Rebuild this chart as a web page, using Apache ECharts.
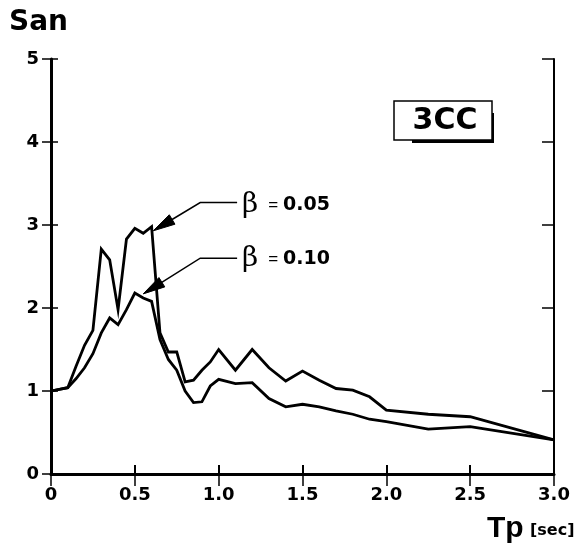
<!DOCTYPE html>
<html>
<head>
<meta charset="utf-8">
<script src="https://cdn.jsdelivr.net/npm/echarts@6/dist/echarts.min.js"></script>
<style>
html,body{margin:0;padding:0;background:#fff;}
#chart{width:586px;height:551px;}
</style>
</head>
<body>
<div id="chart"></div>
<script>
// Period Tp [sec] and spectral amplification San
var tp005 = [0, 0.1, 0.15, 0.2, 0.25, 0.3, 0.35, 0.4, 0.45, 0.5, 0.55, 0.6, 0.65, 0.7, 0.75, 0.8, 0.85, 0.9, 0.95, 1.0, 1.1, 1.2, 1.3, 1.4, 1.5, 1.6, 1.7, 1.8, 1.9, 2.0, 2.25, 2.5, 3.0];
var san005 = [1.0, 1.04, 1.30, 1.55, 1.73, 2.71, 2.58, 1.98, 2.83, 2.96, 2.90, 2.98, 1.70, 1.47, 1.47, 1.11, 1.13, 1.25, 1.35, 1.50, 1.25, 1.50, 1.28, 1.12, 1.24, 1.13, 1.03, 1.01, 0.93, 0.77, 0.72, 0.69, 0.41];
var tp010 = [0, 0.1, 0.15, 0.2, 0.25, 0.3, 0.35, 0.4, 0.45, 0.5, 0.55, 0.6, 0.65, 0.7, 0.75, 0.8, 0.85, 0.9, 0.95, 1.0, 1.1, 1.2, 1.3, 1.4, 1.5, 1.6, 1.7, 1.8, 1.9, 2.0, 2.25, 2.5, 3.0];
var san010 = [1.0, 1.04, 1.15, 1.28, 1.45, 1.70, 1.88, 1.80, 1.98, 2.18, 2.12, 2.08, 1.62, 1.38, 1.25, 1.00, 0.86, 0.87, 1.06, 1.14, 1.09, 1.10, 0.91, 0.81, 0.84, 0.81, 0.76, 0.72, 0.66, 0.63, 0.54, 0.57, 0.41];
var xTicks = [0, 0.5, 1.0, 1.5, 2.0, 2.5, 3.0];
var yTicks = [0, 1, 2, 3, 4, 5];
// annotation leader lines (data coordinates): start, corner, arrow tip
var arrow005 = [1.11, 3.27, 0.89, 3.27, 0.61, 2.93];
var arrow010 = [1.11, 2.60, 0.89, 2.60, 0.55, 2.17];
var label005 = '0.05';
var label010 = '0.10';
var boxLabel = '3CC';

function pairs(xs, ys) { return xs.map(function (x, i) { return [x, ys[i]]; }); }

var chart = echarts.init(document.getElementById('chart'), null, {renderer: 'canvas'});
var FONT = 'Liberation Sans, Arial, sans-serif';
var WIDE = 'DejaVu Sans, sans-serif';

function renderArrow(params, api) {
  var p0 = api.coord([api.value(0), api.value(1)]);
  var p1 = api.coord([api.value(2), api.value(3)]);
  var p2 = api.coord([api.value(4), api.value(5)]);
  var dx = p2[0] - p1[0], dy = p2[1] - p1[1];
  var len = Math.sqrt(dx * dx + dy * dy);
  var ux = dx / len, uy = dy / len;
  var hl = 22, hw = 5.5;
  var bx = p2[0] - ux * hl, by = p2[1] - uy * hl;
  var nx = -uy, ny = ux;
  return {
    type: 'group',
    children: [{
      type: 'polyline',
      shape: {points: [p0, p1, [bx + ux * 2, by + uy * 2]]},
      style: {stroke: '#000', lineWidth: 1.5, fill: null}
    }, {
      type: 'polygon',
      shape: {points: [[p2[0], p2[1]], [bx + nx * hw, by + ny * hw], [bx - nx * hw, by - ny * hw]]},
      style: {fill: '#000', stroke: '#000', lineWidth: 1}
    }]
  };
}

var option = {
  animation: false,
  backgroundColor: '#fff',
  grid: {left: 51, right: 32, top: 59, bottom: 77, containLabel: false},
  xAxis: [{
    type: 'value', min: 0, max: 3, interval: 0.5, position: 'bottom',
    axisLine: {show: true, lineStyle: {color: '#000', width: 3}},
    axisTick: {show: true, inside: true, length: 9, lineStyle: {color: '#000', width: 2}},
    splitLine: {show: false},
    axisLabel: {color: '#000', fontFamily: WIDE, fontWeight: 'bold', fontSize: 18, margin: 12,
      formatter: function (v) { return v === 0 ? '0' : v.toFixed(1); }}
  }, {
    type: 'value', min: 0, max: 3, interval: 0.5, position: 'top',
    axisLine: {show: true, lineStyle: {color: '#000', width: 2}},
    axisTick: {show: true, inside: true, length: 12, lineStyle: {color: '#000', width: 1.5}},
    splitLine: {show: false}, axisLabel: {show: false}
  }],
  yAxis: [{
    type: 'value', min: 0, max: 5, interval: 1, position: 'left',
    axisLine: {show: true, lineStyle: {color: '#000', width: 3}},
    axisTick: {show: true, inside: false, length: 9, lineStyle: {color: '#000', width: 1.5}},
    splitLine: {show: false},
    axisLabel: {color: '#000', fontFamily: WIDE, fontWeight: 'bold', fontSize: 18, margin: 12}
  }, {
    type: 'value', min: 0, max: 5, interval: 1, position: 'left',
    axisLine: {show: false},
    axisTick: {show: true, inside: true, length: 7, lineStyle: {color: '#000', width: 1.5}},
    splitLine: {show: false}, axisLabel: {show: false}
  }, {
    type: 'value', min: 0, max: 5, interval: 1, position: 'right',
    axisLine: {show: true, lineStyle: {color: '#000', width: 2}},
    axisTick: {show: true, inside: true, length: 12, lineStyle: {color: '#000', width: 1.5}},
    splitLine: {show: false}, axisLabel: {show: false}
  }],
  series: [{
    name: 'beta005', type: 'line', data: pairs(tp005, san005), showSymbol: false, symbol: 'none',
    lineStyle: {color: '#000', width: 2.8, join: 'miter'}, z: 5
  }, {
    name: 'beta010', type: 'line', data: pairs(tp010, san010), showSymbol: false, symbol: 'none',
    lineStyle: {color: '#000', width: 2.8, join: 'miter'}, z: 5
  }, {
    type: 'custom', coordinateSystem: 'cartesian2d', renderItem: renderArrow,
    encode: {x: [0, 2, 4], y: [1, 3, 5]},
    data: [arrow005, arrow010], z: 6, silent: true
  }],
  graphic: [
    {type: 'text', left: 9, top: 9, style: {text: 'San', font: 'bold 28px ' + WIDE, fill: '#000'}},
    {type: 'text', left: 487, top: 514, style: {text: 'Tp', font: 'bold 30px ' + FONT, fill: '#000'}},
    {type: 'text', left: 530, top: 523, style: {text: '[sec]', font: 'bold 16px ' + WIDE, fill: '#000'}},
    // 3CC box with drop shadow
    {type: 'rect', shape: {x: 412, y: 113, width: 82, height: 30}, style: {fill: '#000'}, z: 10},
    {type: 'rect', shape: {x: 394, y: 101, width: 98, height: 39}, style: {fill: '#fff', stroke: '#000', lineWidth: 1.5}, z: 11},
    {type: 'text', x: 445, y: 121, z: 12, style: {text: boxLabel, font: 'bold 30px ' + WIDE, fill: '#000', align: 'center', verticalAlign: 'middle'}},
    // beta labels
    {type: 'text', x: 242, y: 205, z: 12, style: {
      text: '{b|β}{e|=}{v|' + label005 + '}', verticalAlign: 'middle',
      rich: {b: {font: '28px DejaVu Serif, serif', fill: '#000'}, e: {font: '17px ' + FONT, fill: '#000', padding: [0, 5, 0, 10]}, v: {font: 'bold 19px ' + WIDE, fill: '#000'}}
    }},
    {type: 'text', x: 242, y: 259, z: 12, style: {
      text: '{b|β}{e|=}{v|' + label010 + '}', verticalAlign: 'middle',
      rich: {b: {font: '28px DejaVu Serif, serif', fill: '#000'}, e: {font: '17px ' + FONT, fill: '#000', padding: [0, 5, 0, 10]}, v: {font: 'bold 19px ' + WIDE, fill: '#000'}}
    }}
  ]
};
chart.setOption(option);
</script>
</body>
</html>
